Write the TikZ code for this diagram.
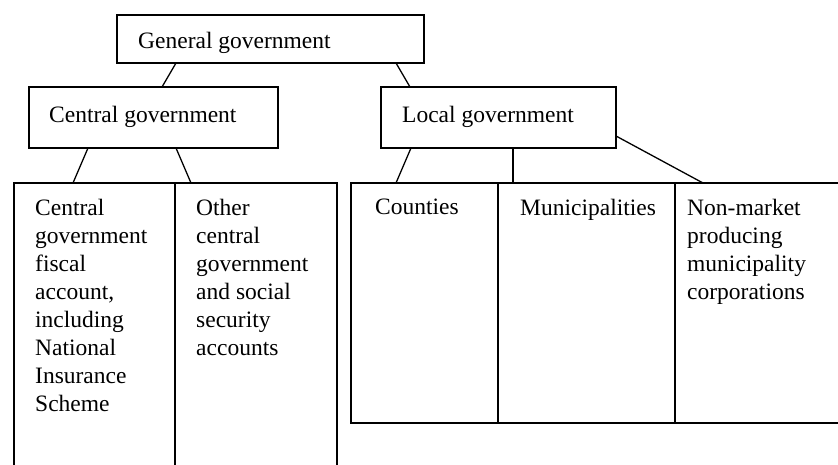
\documentclass[tikz,border=0pt]{standalone}
\usepackage{fontspec}
\setmainfont{Liberation Serif}
\usepackage{tikz}
\usetikzlibrary{positioning}
\usetikzlibrary{calc}

\begin{document}
\begin{tikzpicture}[x=1pt, y=-1pt,
			boxnode/.style={rectangle, draw=black, line width=1.3pt, inner sep=0pt, outer sep=0pt, anchor=north west},
			textnode/.style={inner sep=0pt, anchor=north west, align=left, font=\fontsize{23.5}{28}\selectfont},
			link/.style={-, line width=1.3pt}
			]
			
			\useasboundingbox (0,0) rectangle (838,464);
			\clip (0,0) rectangle (838,464);
			
			\node[boxnode, minimum width=307pt, minimum height=48pt] at (117, 15) (gengov) {};
			\node[boxnode, minimum width=249pt, minimum height=61pt] at (29, 87) (centgov) {};
			\node[boxnode, minimum width=235pt, minimum height=61pt] at (381, 87) (locgov) {};
			\node[boxnode, minimum width=161pt, minimum height=320pt] at (14, 183) (fiscal) {};
			\node[boxnode, minimum width=162pt, minimum height=320pt] at (175, 183) (othercent) {};
			\node[boxnode, minimum width=147pt, minimum height=240pt] at (351, 183) (counties) {};
			\node[boxnode, minimum width=177pt, minimum height=240pt] at (498, 183) (munic) {};
			\node[boxnode, minimum width=220pt, minimum height=240pt] at (675, 183) (nonmarket) {};
			
			\node[textnode] at ([xshift=21pt, yshift=-17pt]gengov.north west) (gengovtext) {General government};
			\node[textnode] at ([xshift=20pt, yshift=-19pt]centgov.north west) (centgovtext) {Central government};
			\node[textnode] at ([xshift=21pt, yshift=-19pt]locgov.north west) (locgovtext) {Local government};
			\node[textnode] at ([xshift=21pt, yshift=-16pt]fiscal.north west) (fiscaltext) {Central\\government\\fiscal\\account,\\including\\National\\Insurance\\Scheme};
			\node[textnode] at ([xshift=21pt, yshift=-16pt]othercent.north west) (othercenttext) {Other\\central\\government\\and social\\security\\accounts};
			\node[textnode] at ([xshift=24pt, yshift=-16pt]counties.north west) (countiestext) {Counties};
			\node[textnode] at ([xshift=22pt, yshift=-16pt]munic.north west) (munictext) {Municipalities};
			\node[textnode] at ([xshift=12pt, yshift=-16pt]nonmarket.north west) (nonmarkettext) {Non-market\\producing\\municipality\\corporations};
			
			\draw[link] ([xshift=59pt]gengov.south west) -- ([xshift=133pt]centgov.north west);
			\draw[link] ([xshift=279pt]gengov.south west) -- ([xshift=29pt]locgov.north west);
			\draw[link] ([xshift=59pt]centgov.south west) -- ([xshift=59pt]fiscal.north west);
			\draw[link] ([xshift=147pt]centgov.south west) -- ([xshift=16pt]othercent.north west);
			\draw[link] ([xshift=30pt]locgov.south west) -- ([xshift=45pt]counties.north west);
			\draw[link] ([xshift=132pt]locgov.south west) -- ([xshift=15pt]munic.north west);
			\draw[link] ([yshift=-49pt]locgov.north east) -- ([xshift=28pt]nonmarket.north west);
		\end{tikzpicture}
\end{document}
